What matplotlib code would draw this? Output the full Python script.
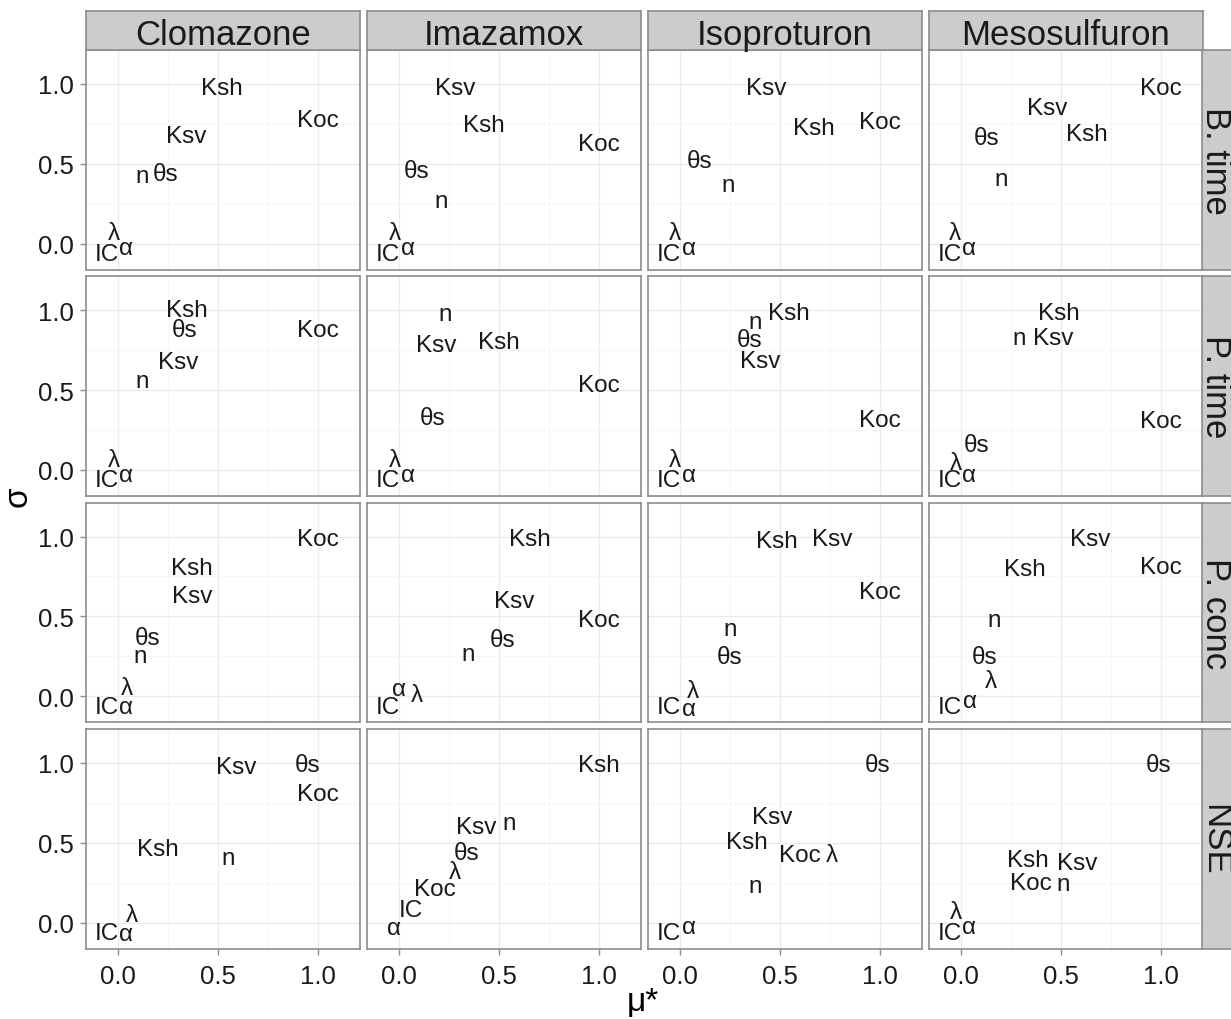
import matplotlib
matplotlib.use("Agg")
import matplotlib.pyplot as plt
from matplotlib.ticker import FixedLocator, FixedFormatter

plt.rcParams['font.family'] = ['Liberation Sans', 'DejaVu Sans']

# ---------------- data ----------------
compounds = ["Clomazone", "Imazamox", "Isoproturon", "Mesosulfuron"]
outputs = ["B. time", "P. time", "P. conc", "NSE"]
params = ["Koc", "Ksh", "Ksv", "n", "θs", "λ", "α", "IC"]

# rows: compounds (Clomazone, Imazamox, Isoproturon, Mesosulfuron); columns: params order above
btime_mu = [
    [1.00, 0.52, 0.34, 0.12, 0.24, -0.020, 0.040, -0.055],
    [1.00, 0.425, 0.28, 0.21, 0.09, -0.023, 0.045, -0.055],
    [1.00, 0.67, 0.43, 0.24, 0.10, -0.026, 0.045, -0.057],
    [1.00, 0.63, 0.43, 0.20, 0.13, -0.032, 0.040, -0.057],
]
btime_sigma = [
    [0.79, 0.99, 0.69, 0.44, 0.45, 0.080, -0.010, -0.050],
    [0.64, 0.76, 0.99, 0.28, 0.47, 0.080, -0.010, -0.050],
    [0.78, 0.74, 0.99, 0.385, 0.53, 0.083, -0.010, -0.048],
    [0.99, 0.70, 0.865, 0.42, 0.68, 0.083, -0.010, -0.048],
]
ptime_mu = [
    [1.00, 0.345, 0.30, 0.12, 0.335, -0.020, 0.040, -0.055],
    [1.00, 0.50, 0.185, 0.23, 0.17, -0.023, 0.045, -0.055],
    [1.00, 0.545, 0.40, 0.375, 0.35, -0.026, 0.045, -0.057],
    [1.00, 0.49, 0.46, 0.29, 0.08, -0.026, 0.040, -0.057],
]
ptime_sigma = [
    [0.89, 1.02, 0.69, 0.57, 0.89, 0.080, -0.015, -0.050],
    [0.55, 0.815, 0.80, 0.99, 0.34, 0.080, -0.015, -0.050],
    [0.33, 1.00, 0.70, 0.94, 0.83, 0.080, -0.015, -0.050],
    [0.32, 1.00, 0.84, 0.84, 0.17, 0.060, -0.015, -0.050],
]
pconc_mu = [
    [1.00, 0.37, 0.37, 0.11, 0.15, 0.045, 0.040, -0.055],
    [1.00, 0.655, 0.575, 0.345, 0.52, 0.090, 0.000, -0.054],
    [1.00, 0.485, 0.76, 0.25, 0.25, 0.065, 0.045, -0.057],
    [1.00, 0.32, 0.645, 0.165, 0.12, 0.150, 0.043, -0.057],
]
pconc_sigma = [
    [1.00, 0.82, 0.645, 0.27, 0.38, 0.065, -0.055, -0.054],
    [0.49, 1.00, 0.61, 0.28, 0.37, 0.020, 0.060, -0.054],
    [0.67, 0.99, 1.00, 0.435, 0.26, 0.050, -0.065, -0.054],
    [0.825, 0.815, 1.00, 0.49, 0.26, 0.110, -0.013, -0.054],
]
nse_mu = [
    [1.00, 0.20, 0.59, 0.55, 0.95, 0.070, 0.040, -0.055],
    [0.18, 1.00, 0.385, 0.55, 0.34, 0.280, -0.023, 0.060],
    [0.60, 0.335, 0.46, 0.375, 0.99, 0.760, 0.045, -0.057],
    [0.35, 0.335, 0.58, 0.51, 0.99, -0.026, 0.040, -0.057],
]
nse_sigma = [
    [0.82, 0.475, 0.99, 0.42, 1.00, 0.060, -0.058, -0.052],
    [0.225, 1.00, 0.615, 0.64, 0.45, 0.330, -0.020, 0.094],
    [0.44, 0.52, 0.68, 0.245, 1.00, 0.440, -0.015, -0.052],
    [0.265, 0.405, 0.39, 0.26, 1.00, 0.080, -0.015, -0.052],
]

mu_rows = [btime_mu, ptime_mu, pconc_mu, nse_mu]
sigma_rows = [btime_sigma, ptime_sigma, pconc_sigma, nse_sigma]

major_ticks = [0.0, 0.5, 1.0]
major_labels = ["0.0", "0.5", "1.0"]
minor_ticks = [0.25, 0.75]

# ---------------- layout ----------------
W, H = 1231, 1020
fig = plt.figure(figsize=(W / 100, H / 100), dpi=100)

def fig_rect(x0, y0, w, h):
    return [x0 / W, 1 - (y0 + h) / H, w / W, h / H]

col_left = [86, 367, 648, 929]
col_w = 274
row_top = [51, 277.3, 503.6, 730]
row_h = 219.5

BORDER = '#8c8c8c'
TXT = '#1a1a1a'

for r in range(4):
    for c in range(4):
        ax = fig.add_axes(fig_rect(col_left[c], row_top[r], col_w, row_h))
        ax.set_xlim(-0.16, 1.21)
        ax.set_ylim(-0.1625, 1.2125)
        ax.set_facecolor('white')
        for loc in ['x', 'y']:
            axis = ax.xaxis if loc == 'x' else ax.yaxis
            axis.set_major_locator(FixedLocator(major_ticks))
            axis.set_major_formatter(FixedFormatter(major_labels))
            axis.set_minor_locator(FixedLocator(minor_ticks))
        ax.grid(True, which='major', color='#ebebeb', linewidth=1.0)
        ax.grid(True, which='minor', color='#f5f5f5', linewidth=0.6)
        ax.set_axisbelow(True)
        for s in ax.spines.values():
            s.set_color(BORDER)
            s.set_linewidth(1.2)
        ax.tick_params(which='major', length=4, width=1.0, color=BORDER,
                       labelsize=18.5, labelcolor=TXT)
        ax.tick_params(axis='x', pad=7)
        ax.tick_params(axis='y', pad=5)
        ax.tick_params(which='minor', length=0)
        if c != 0:
            ax.tick_params(axis='y', which='major', length=0, labelleft=False)
        if r != 3:
            ax.tick_params(axis='x', which='major', length=0, labelbottom=False)

        mu = mu_rows[r][c]
        sg = sigma_rows[r][c]
        for lab, xv, yv in zip(params, mu, sg):
            ax.text(xv, yv, lab, ha='center', va='center_baseline',
                    fontsize=17.5, color=TXT)

# top strips
for c in range(4):
    sax = fig.add_axes(fig_rect(col_left[c], 12, col_w, 39))
    sax.set_facecolor('#cccccc')
    sax.set_xticks([]); sax.set_yticks([])
    for s in sax.spines.values():
        s.set_color(BORDER); s.set_linewidth(1.2)
    sax.text(0.5, 0.5, compounds[c], transform=sax.transAxes, ha='center',
             va='center_baseline', fontsize=25, color=TXT)

# right strips
for r in range(4):
    sax = fig.add_axes(fig_rect(1202, row_top[r], 40, row_h))
    sax.set_facecolor('#cccccc')
    sax.set_xticks([]); sax.set_yticks([])
    for s in sax.spines.values():
        s.set_color(BORDER); s.set_linewidth(1.2)
    fig.text(1215 / W, 1 - (row_top[r] + row_h / 2) / H, outputs[r],
             rotation=-90, ha='center', va='center', fontsize=25, color=TXT)

# axis titles
fig.text(643 / W, 1 - 1003 / H, 'μ*', ha='center', va='center', fontsize=24, color='black')
fig.text(18.5 / W, 1 - 497 / H, 'σ', ha='center', va='center', rotation=90,
         fontsize=24, color='black')

fig.savefig('out.png', dpi=100)
